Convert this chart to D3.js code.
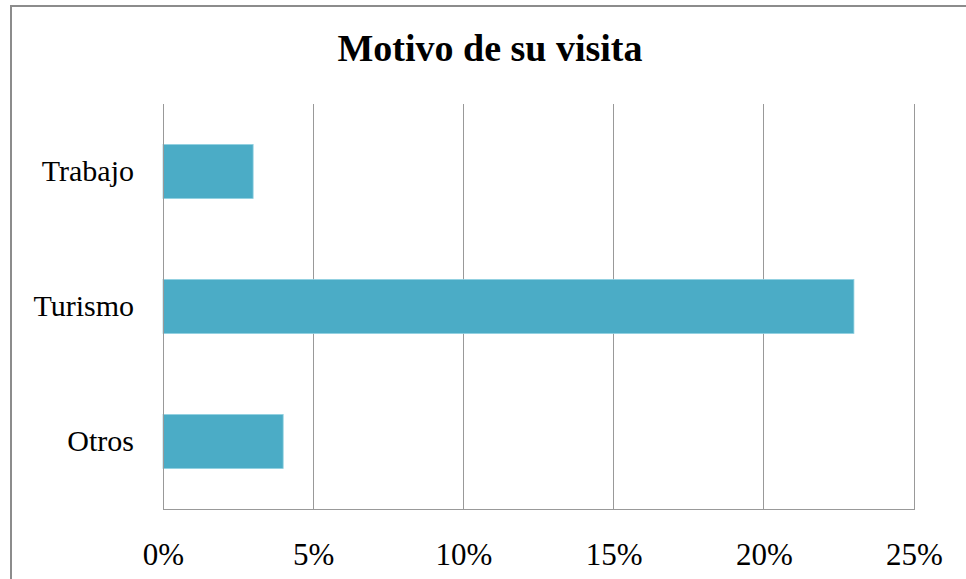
<!DOCTYPE html>
<html lang="es">
<head>
<meta charset="utf-8" />
<title>Motivo de su visita</title>
<script src="https://d3js.org/d3.v7.min.js"></script>
<style>
  html, body { margin: 0; padding: 0; background: #fff; }
  svg { display: block; }
  svg text { font-family: "Liberation Serif", "Times New Roman", serif; }
</style>
</head>
<body>
<div id="chart"></div>
<script>
// chart data
var categories = ["Trabajo", "Turismo", "Otros"];
var values = [3, 23, 4];           // percent
var tickValues = [0, 5, 10, 15, 20, 25];

var width = 966, height = 579;
var plot = { left: 163, right: 914, top: 104, bottom: 509 };
var serif = '"Liberation Serif", "Times New Roman", serif';

var svg = d3.select("#chart").append("svg")
    .attr("width", width)
    .attr("height", height);

// outer frame (runs off the right and bottom edge)
svg.append("rect")
    .attr("x", 11).attr("y", 6)
    .attr("width", 1000).attr("height", 700)
    .attr("fill", "none")
    .attr("stroke", "#8c8c8c")
    .attr("stroke-width", 2);

var xScale = d3.scaleLinear()
    .domain([0, 25])
    .range([plot.left, plot.right]);

var yScale = d3.scaleBand()
    .domain(categories)
    .range([plot.top, plot.bottom])
    .paddingInner(0.6)
    .paddingOuter(0.3);

// vertical gridlines
svg.append("g")
    .selectAll("line")
    .data(tickValues)
    .enter().append("line")
    .attr("x1", function(d) { return xScale(d); })
    .attr("x2", function(d) { return xScale(d); })
    .attr("y1", plot.top)
    .attr("y2", plot.bottom)
    .attr("stroke", "#999")
    .attr("stroke-width", 1)
    .attr("shape-rendering", "crispEdges");

// bars
svg.append("g")
    .selectAll("rect")
    .data(categories)
    .enter().append("rect")
    .attr("x", xScale(0))
    .attr("y", function(d) { return yScale(d); })
    .attr("width", function(d, i) { return xScale(values[i]) - xScale(0); })
    .attr("height", yScale.bandwidth())
    .attr("fill", "#4bacc6")
    .attr("stroke", "#8fd0e0")
    .attr("stroke-width", 0.8);

// bottom axis
var xAxis = d3.axisBottom(xScale)
    .tickValues(tickValues)
    .tickSize(0)
    .tickPadding(34)
    .tickFormat(function(d) { return d + "%"; });

var gx = svg.append("g")
    .attr("transform", "translate(0," + plot.bottom + ")")
    .call(xAxis)
    .attr("font-family", null)
    .attr("font-size", null);
gx.select(".domain").attr("stroke", "#999").attr("shape-rendering", "crispEdges");
gx.selectAll("text")
    .style("font-family", serif)
    .style("font-size", "31px")
    .attr("fill", "#000");

// left axis
var yAxis = d3.axisLeft(yScale)
    .tickSize(0)
    .tickPadding(29);

var gy = svg.append("g")
    .attr("transform", "translate(" + plot.left + ",0)")
    .call(yAxis)
    .attr("font-family", null)
    .attr("font-size", null);
gy.select(".domain").attr("stroke", "#999").attr("shape-rendering", "crispEdges");
gy.selectAll("text")
    .style("font-family", serif)
    .style("font-size", "30px")
    .attr("fill", "#000");

// title
svg.append("text")
    .attr("x", 490)
    .attr("y", 61)
    .attr("text-anchor", "middle")
    .style("font-family", serif)
    .style("font-size", "38px")
    .style("font-weight", "bold")
    .attr("fill", "#000")
    .text("Motivo de su visita");
</script>
</body>
</html>
